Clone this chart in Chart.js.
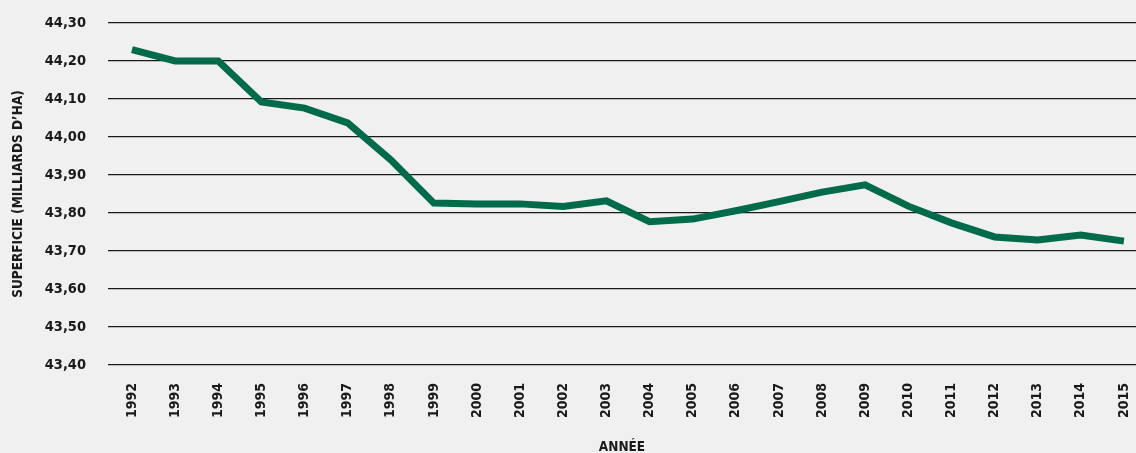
<!DOCTYPE html>
<html>
<head>
<meta charset="utf-8">
<script src="https://cdn.jsdelivr.net/npm/chart.js@4"></script>
<style>
html,body{margin:0;padding:0;background:#f0f0f0;}
#wrap{position:relative;width:1136px;height:453px;}
</style>
</head>
<body>
<div id="wrap"><canvas id="c"></canvas></div>
<script>
const years = [1992,1993,1994,1995,1996,1997,1998,1999,2000,2001,2002,2003,2004,2005,2006,2007,2008,2009,2010,2011,2012,2013,2014,2015];
const superficie = [44.23,44.20,44.20,44.092,44.076,44.037,43.94,43.826,43.824,43.824,43.817,43.832,43.777,43.784,43.806,43.83,43.855,43.874,43.818,43.774,43.737,43.729,43.742,43.726];
const yTicks = [43.4,43.5,43.6,43.7,43.8,43.9,44.0,44.1,44.2,44.3];
const yTitle = "SUPERFICIE (MILLIARDS D’HA)";
const xTitle = "ANNÉE";

const FONT = "'DejaVu Sans Condensed','Liberation Sans Narrow',sans-serif";
const TXT = '#1a1a1a';

new Chart(document.getElementById('c'), {
  type: 'line',
  data: {
    datasets: [{
      data: years.map((y,i)=>({x:y,y:superficie[i]})),
      borderColor: '#006b4a',
      borderWidth: 7,
      pointRadius: 0,
      pointHoverRadius: 0,
      tension: 0,
      fill: false,
      borderJoinStyle: 'miter'
    }]
  },
  options: {
    responsive: true,
    maintainAspectRatio: false,
    animation: false,
    layout: { padding: { top: 23, right: 0, left: 0, bottom: 0 } },
    plugins: { legend: { display: false }, tooltip: { enabled: false } },
    scales: {
      x: {
        type: 'linear',
        min: 1991.444,
        max: 2015.28,
        afterBuildTicks: (s) => { s.ticks = years.map(v=>({value:v})); },
        afterFit: (s) => { s.height = 88; s.paddingLeft = 0; s.paddingRight = 0; },
        grid: { display: false },
        border: { display: false },
        ticks: {
          autoSkip: false,
          maxRotation: 90,
          minRotation: 90,
          padding: 10,
          color: TXT,
          font: { family: FONT, size: 14, weight: 'bold' },
          callback: (v) => String(v)
        },
        title: {
          display: true,
          text: xTitle,
          color: TXT,
          font: { family: FONT, size: 13.5, weight: 'bold' },
          padding: { top: 0, bottom: -3 }
        }
      },
      y: {
        min: 43.4,
        max: 44.3,
        afterBuildTicks: (s) => { s.ticks = yTicks.map(v=>({value:v})); },
        afterFit: (s) => { s.width = 108; s.paddingTop = 0; s.paddingBottom = 0; },
        grid: { color: '#1a1a1a', lineWidth: 1.2, drawTicks: false },
        border: { display: false },
        ticks: {
          padding: 22,
          color: TXT,
          font: { family: FONT, size: 14.5, weight: 'bold' },
          callback: (v) => Number(v).toFixed(2).replace('.', ',')
        },
        title: {
          display: true,
          text: yTitle,
          color: TXT,
          font: { family: FONT, size: 13.5, weight: 'bold' },
          padding: { top: 10, bottom: 0 }
        }
      }
    }
  }
});
</script>
</body>
</html>
